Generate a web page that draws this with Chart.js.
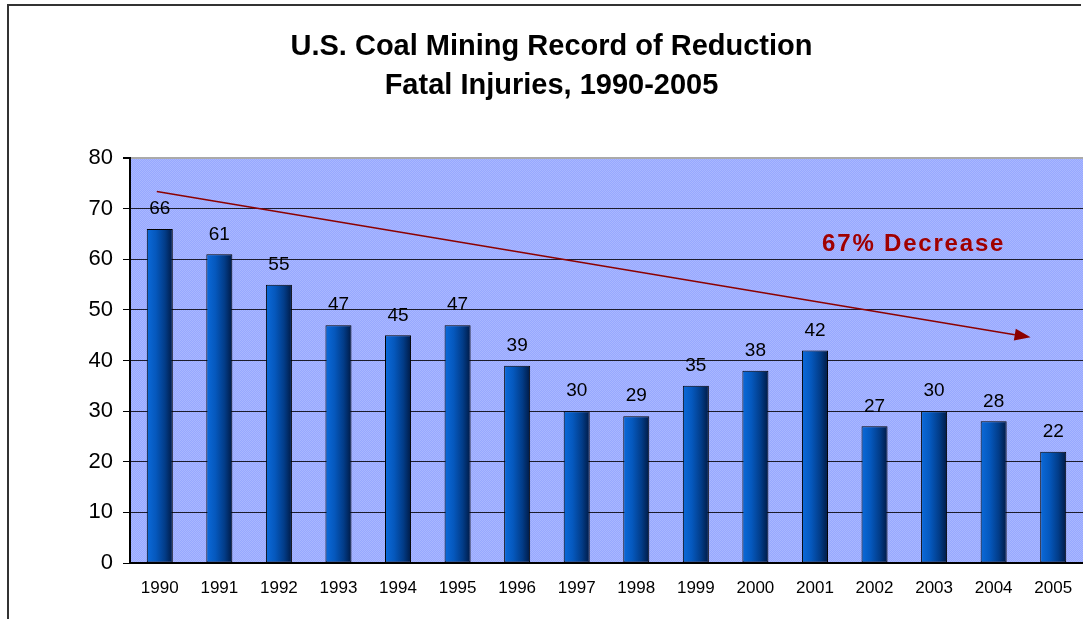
<!DOCTYPE html>
<html>
<head>
<meta charset="utf-8">
<title>U.S. Coal Mining Record of Reduction</title>
<script src="https://cdn.jsdelivr.net/npm/chart.js@4.4.1/dist/chart.umd.min.js"></script>
<style>
  html, body { margin: 0; padding: 0; background: #fff; }
  canvas { display: block; }
</style>
</head>
<body>
<canvas id="myChart" width="1083" height="619"></canvas>
<script>
const years = ["1990", "1991", "1992", "1993", "1994", "1995", "1996", "1997",
  "1998", "1999", "2000", "2001", "2002", "2003", "2004", "2005"];
const fatalities = [66, 61, 55, 47, 45, 47, 39, 30, 29, 35, 38, 42, 27, 30, 28, 22];
const yMin = 0;
const yMax = 80;
const yStep = 10;
const titleLines = ["U.S. Coal Mining Record of Reduction", "Fatal Injuries, 1990-2005"];
const trendLabel = "67% Decrease";
// trend arrow in data units: [category index, value]
const trendFrom = [-0.05, 73.4];
const trendTo = [14.62, 44.6];
const trendText = [11.12, 62.9];

const BAR_PCT = 0.437;

// stippled blue plot background
function makePattern() {
  const c = document.createElement("canvas");
  c.width = 2;
  c.height = 2;
  const g = c.getContext("2d");
  g.fillStyle = "#97a8ff";
  g.fillRect(0, 0, 2, 2);
  g.fillStyle = "#a9b7ff";
  g.fillRect(0, 0, 1, 1);
  g.fillRect(1, 1, 1, 1);
  return c;
}

const backdrop = {
  id: "backdrop",
  beforeDraw(chart) {
    const { ctx, chartArea: a } = chart;
    ctx.save();
    ctx.fillStyle = ctx.createPattern(makePattern(), "repeat");
    ctx.fillRect(a.left, a.top, a.right - a.left, a.bottom - a.top);
    // outer frame
    ctx.strokeStyle = "#333";
    ctx.lineWidth = 2;
    ctx.beginPath();
    ctx.moveTo(8, chart.height);
    ctx.lineTo(8, 5);
    ctx.lineTo(1081, 5);
    ctx.stroke();
    ctx.restore();
  },
};

const barLabels = {
  id: "barLabels",
  afterDatasetsDraw(chart) {
    const { ctx } = chart;
    const meta = chart.getDatasetMeta(0);
    ctx.save();
    ctx.font = "19px 'Liberation Sans', Arial, sans-serif";
    ctx.fillStyle = "#000";
    ctx.textAlign = "center";
    ctx.textBaseline = "middle";
    meta.data.forEach((bar, i) => {
      ctx.fillText(String(fatalities[i]), bar.x, bar.y - 20);
    });
    ctx.restore();
  },
};

const trendArrow = {
  id: "trendArrow",
  afterDatasetsDraw(chart) {
    const { ctx, scales: { x, y } } = chart;
    const px = (v) => x.getPixelForValue(0) + v * (x.getPixelForValue(1) - x.getPixelForValue(0));
    const x1 = px(trendFrom[0]), y1 = y.getPixelForValue(trendFrom[1]);
    const x2 = px(trendTo[0]), y2 = y.getPixelForValue(trendTo[1]);
    const ang = Math.atan2(y2 - y1, x2 - x1);
    const head = 16, half = 6;
    ctx.save();
    ctx.strokeStyle = "#8c0000";
    ctx.fillStyle = "#8c0000";
    ctx.lineWidth = 1.5;
    ctx.beginPath();
    ctx.moveTo(x1, y1);
    ctx.lineTo(x2 - head * Math.cos(ang), y2 - head * Math.sin(ang));
    ctx.stroke();
    ctx.beginPath();
    ctx.moveTo(x2, y2);
    ctx.lineTo(x2 - head * Math.cos(ang) + half * Math.sin(ang), y2 - head * Math.sin(ang) - half * Math.cos(ang));
    ctx.lineTo(x2 - head * Math.cos(ang) - half * Math.sin(ang), y2 - head * Math.sin(ang) + half * Math.cos(ang));
    ctx.closePath();
    ctx.fill();

    ctx.fillStyle = "#a00000";
    ctx.font = "bold 24px 'Liberation Sans', Arial, sans-serif";
    ctx.letterSpacing = "1.8px";
    ctx.textAlign = "left";
    ctx.textBaseline = "middle";
    ctx.fillText(trendLabel, px(trendText[0]), y.getPixelForValue(trendText[1]));
    ctx.restore();
  },
};

function barFill(context) {
  const chart = context.chart;
  const area = chart.chartArea;
  if (!area || context.type !== "data") return "#0050b0";
  const cx = chart.scales.x.getPixelForValue(context.dataIndex);
  const w = (area.right - area.left) / years.length * BAR_PCT;
  const g = chart.ctx.createLinearGradient(cx - w / 2, 0, cx + w / 2, 0);
  g.addColorStop(0, "#0b6ada");
  g.addColorStop(0.35, "#0558bd");
  g.addColorStop(0.7, "#023c88");
  g.addColorStop(1, "#001a45");
  return g;
}

const config = {
  type: "bar",
  data: {
    labels: years,
    datasets: [
      {
        label: "Fatal Injuries",
        data: fatalities,
        backgroundColor: barFill,
        borderColor: "#000",
        borderWidth: 1,
        borderSkipped: false,
        barPercentage: BAR_PCT,
        categoryPercentage: 1,
      },
    ],
  },
  options: {
    responsive: false,
    animation: false,
    layout: { padding: { left: 20, right: 0, top: 0, bottom: 0 } },
    plugins: {
      legend: { display: false },
      tooltip: { enabled: false },
      title: {
        display: true,
        text: titleLines,
        color: "#000",
        font: { family: "'Liberation Sans', Arial, sans-serif", size: 29, weight: "bold", lineHeight: 1.33 },
        padding: { top: 28, bottom: 53 },
      },
    },
    scales: {
      x: {
        grid: { display: true, drawOnChartArea: false, drawTicks: true, tickLength: 15, tickColor: "rgba(0,0,0,0)" },
        border: { display: true, color: "#000", width: 2 },
        ticks: {
          color: "#000",
          font: { family: "'Liberation Sans', Arial, sans-serif", size: 17 },
          padding: 0,
          maxRotation: 0,
          autoSkip: false,
        },
        afterFit(scale) { scale.height = 56; },
      },
      y: {
        min: yMin,
        max: yMax,
        grid: {
          color: (c) => (c.tick && c.tick.value === yMax ? "#aaaaaa" : "#1c1c2c"),
          lineWidth: (c) => (c.tick && c.tick.value === yMax ? 2 : 1),
          tickColor: "#000",
          tickLength: 7,
        },
        border: { display: true, color: "#000", width: 2 },
        ticks: {
          stepSize: yStep,
          color: "#000",
          padding: 10,
          font: { family: "'Liberation Sans', Arial, sans-serif", size: 22 },
        },
        afterFit(scale) { scale.width = 110; },
      },
    },
  },
  plugins: [backdrop, barLabels, trendArrow],
};

const myChart = new Chart(document.querySelector("#myChart"), config);
</script>
</body>
</html>
